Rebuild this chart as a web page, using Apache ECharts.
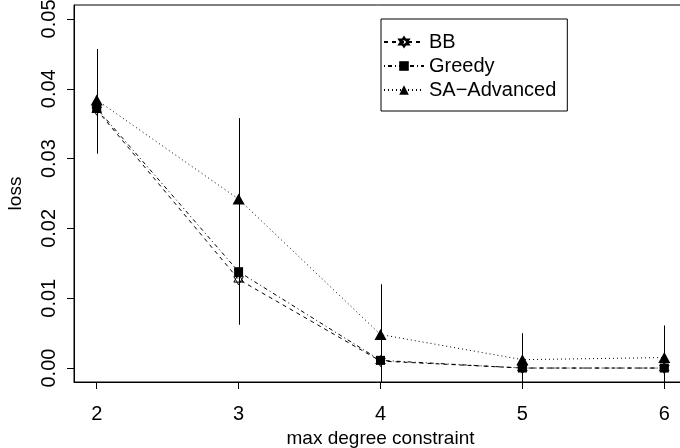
<!DOCTYPE html>
<html>
<head>
<meta charset="utf-8">
<script src="https://cdn.jsdelivr.net/npm/echarts@6/dist/echarts.min.js"></script>
<style>html,body{margin:0;padding:0;background:#fff;}#c{width:680px;height:448px;}</style>
</head>
<body>
<div id="c"></div>
<script>
const degrees = [2, 3, 4, 5, 6];
const xTicks = [2, 3, 4, 5, 6];
const yTicks = [0, 0.01, 0.02, 0.03, 0.04, 0.05];
const seriesNames = ['BB', 'Greedy', 'SA\u2212Advanced'];
const bbLoss = [0.0370, 0.0127, 0.0010, 0.0000, 0.0000];
const greedyLoss = [0.0372, 0.0138, 0.0011, 0.0000, 0.0000];
const saLoss = [0.0384, 0.0242, 0.0048, 0.0012, 0.0015];
const bbErr = [0.0060, 0.0060, 0.0030, 0.0005, 0.0005];
const greedyErr = [0.0065, 0.0076, 0.0030, 0.0005, 0.0005];
const saErr = [0.0073, 0.0116, 0.0072, 0.0038, 0.0046];

const FONT = 'Liberation Sans';
const starPath = 'path://M0,-10L8.66,5L-8.66,5Z M0,10L8.66,-5L-8.66,-5Z';

function pts(vals) { return degrees.map((d, i) => [d, vals[i]]); }
function errData(vals, errs) { return degrees.map((d, i) => [d, vals[i] - errs[i], vals[i] + errs[i]]); }

function errRender(params, api) {
  const x = api.value(0), lo = api.value(1), hi = api.value(2);
  const p1 = api.coord([x, hi]);
  const p2 = api.coord([x, lo]);
  const cs = params.coordSys;
  const y1 = Math.max(p1[1], cs.y);
  const y2 = Math.min(p2[1], cs.y + cs.height);
  const px = Math.round(p1[0]) + 0.5;
  return { type: 'line', shape: { x1: px, y1: y1, x2: px, y2: y2 }, style: { stroke: '#000', lineWidth: 1 } };
}

function errSeries(vals, errs) {
  return { type: 'custom', renderItem: errRender, data: errData(vals, errs), z: 1, silent: true,
           encode: { x: 0, y: [1, 2] } };
}

const chart = echarts.init(document.getElementById('c'), null, { renderer: 'canvas' });
chart.setOption({
  animation: false,
  backgroundColor: '#fff',
  textStyle: { fontFamily: FONT, color: '#000' },
  grid: { left: 74, top: 5, width: 613, height: 377, show: true, borderColor: '#000', borderWidth: 1,
          containLabel: false, outerBoundsMode: 'none' },
  xAxis: {
    type: 'value', min: 1.84, max: 6.16,
    name: 'max degree constraint', nameLocation: 'middle', nameGap: 46,
    nameTextStyle: { fontFamily: FONT, fontSize: 19, color: '#000' },
    axisLine: { show: true, onZero: false, lineStyle: { color: '#000', width: 1 } },
    axisTick: { show: true, inside: false, length: 7, lineStyle: { color: '#000' }, customValues: xTicks },
    axisLabel: { fontFamily: FONT, fontSize: 20, color: '#000', margin: 22, customValues: xTicks },
    splitLine: { show: false }
  },
  yAxis: {
    type: 'value', min: -0.002, max: 0.052,
    name: 'loss', nameLocation: 'middle', nameGap: 49, nameRotate: 90,
    nameTextStyle: { fontFamily: FONT, fontSize: 19, color: '#000' },
    axisLine: { show: true, onZero: false, lineStyle: { color: '#000', width: 1 } },
    axisTick: { show: true, inside: false, length: 7, lineStyle: { color: '#000' }, customValues: yTicks },
    axisLabel: { fontFamily: FONT, fontSize: 20, color: '#000', margin: 15, rotate: 90,
                 customValues: yTicks, formatter: v => v.toFixed(2) },
    splitLine: { show: false }
  },
  legend: {
    data: seriesNames, left: 381, top: 19, orient: 'vertical',
    padding: [11, 11, 9, 2], itemWidth: 40, itemHeight: 12, itemGap: 0,
    borderColor: '#000', borderWidth: 1, borderRadius: 0,
    textStyle: { fontFamily: FONT, fontSize: 20, color: '#000', lineHeight: 24 }
  },
  series: [
    errSeries(bbLoss, bbErr),
    errSeries(greedyLoss, greedyErr),
    errSeries(saLoss, saErr),
    { name: seriesNames[0], type: 'line', data: pts(bbLoss), symbol: starPath, symbolSize: 11, symbolKeepAspect: true,
      itemStyle: { color: 'rgba(255,255,255,0)', borderColor: '#000', borderWidth: 1 },
      lineStyle: { color: '#000', width: 1, type: [4, 4] }, z: 3 },
    { name: seriesNames[1], type: 'line', data: pts(greedyLoss), symbol: 'rect', symbolSize: 9,
      itemStyle: { color: '#000' },
      lineStyle: { color: '#000', width: 1, type: [1, 3, 4, 3] }, z: 4 },
    { name: seriesNames[2], type: 'line', data: pts(saLoss), symbol: 'triangle', symbolSize: [12, 11],
      itemStyle: { color: '#000' },
      lineStyle: { color: '#000', width: 1, type: [1, 3] }, z: 5 }
  ]
});
</script>
</body>
</html>
